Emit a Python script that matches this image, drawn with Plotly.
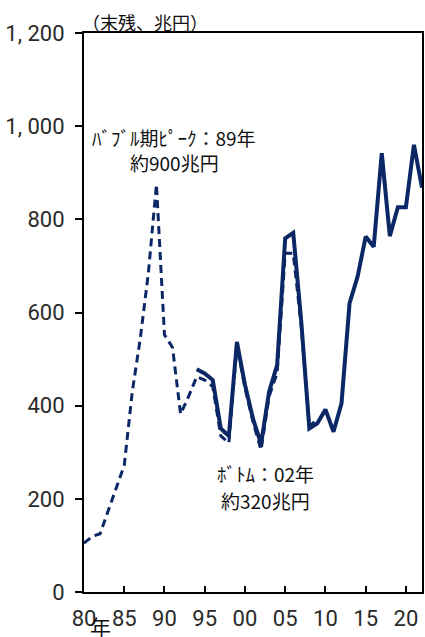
import plotly.graph_objects as go

# Old series (dashed), 1980-2009, 兆円
old_years = list(range(1980, 2010))
old_values = [105, 119, 125, 173, 221, 272, 430, 545, 685, 875,
              552, 525, 382, 420, 462, 455, 441, 335, 320, 530,
              438, 365, 305, 420, 470, 727, 727, 570, 355, 372]

# New series (solid), 1994-2022, 兆円
new_years = list(range(1994, 2023))
new_values = [478, 469, 455, 351, 335, 537, 445, 372, 318, 430,
              487, 759, 771, 580, 351, 362, 392, 344, 405, 620,
              677, 763, 741, 942, 764, 826, 826, 960, 868]

x_tick_vals = [1980, 1985, 1990, 1995, 2000, 2005, 2010, 2015, 2020]
x_tick_text = ["80", "85", "90", "95", "00", "05", "10", "15", "20"]
y_tick_vals = [0, 200, 400, 600, 800, 1000, 1200]
y_tick_text = ["0", "200", "400", "600", "800", "1, 000", "1, 200"]

NAVY = "#0b2765"
NUM_FONT = "Liberation Sans Narrow, Roboto, sans-serif"
JP_FONT = "Noto Sans CJK JP"

fig = go.Figure()
fig.add_trace(go.Scatter(
    x=old_years, y=old_values, mode="lines",
    line=dict(color=NAVY, width=3, dash="8px,5px"),
    showlegend=False, hoverinfo="skip",
))
fig.add_trace(go.Scatter(
    x=new_years, y=new_values, mode="lines",
    line=dict(color=NAVY, width=4),
    showlegend=False, hoverinfo="skip",
))

annotations = [
    dict(text="（末残、兆円）", xref="paper", yref="paper", x=-0.012, y=1.02,
         xanchor="left", yanchor="middle", showarrow=False,
         font=dict(family=JP_FONT, size=18, color="#111")),
    dict(text="年", xref="x", yref="paper", x=1982, y=-0.061,
         xanchor="center", yanchor="middle", showarrow=False,
         font=dict(family=JP_FONT, size=21, color="#111")),
    dict(text="ﾊﾞﾌﾞﾙ期ﾋﾟｰｸ：89年", xref="x", yref="y", x=1991.24, y=975,
         xanchor="center", yanchor="middle", showarrow=False,
         font=dict(family=JP_FONT, size=19, color="#111")),
    dict(text="約900兆円", xref="x", yref="y", x=1991.24, y=923,
         xanchor="center", yanchor="middle", showarrow=False,
         font=dict(family=JP_FONT, size=19, color="#111")),
    dict(text="ﾎﾞﾄﾑ：02年", xref="x", yref="y", x=2002.5, y=255,
         xanchor="center", yanchor="middle", showarrow=False,
         font=dict(family=JP_FONT, size=19, color="#111")),
    dict(text="約320兆円", xref="x", yref="y", x=2002.5, y=197,
         xanchor="center", yanchor="middle", showarrow=False,
         font=dict(family=JP_FONT, size=19, color="#111")),
]

fig.update_layout(
    width=425, height=637,
    margin=dict(l=84, r=1, t=33, b=45),
    paper_bgcolor="white", plot_bgcolor="white",
    annotations=annotations,
    xaxis=dict(
        range=[1980, 2022], tickvals=x_tick_vals, ticktext=x_tick_text,
        showgrid=False, zeroline=False,
        showline=True, linecolor="black", linewidth=2, mirror=True,
        ticks="inside", ticklen=6, tickwidth=2, tickcolor="black",
        tickfont=dict(family=NUM_FONT, size=22, color="#2a2a2a"),
        ticklabelstandoff=6,
    ),
    yaxis=dict(
        range=[0, 1200], tickvals=y_tick_vals, ticktext=y_tick_text,
        showgrid=False, zeroline=False,
        showline=True, linecolor="black", linewidth=2, mirror=True,
        ticks="outside", ticklen=7, tickwidth=2, tickcolor="black",
        tickfont=dict(family=NUM_FONT, size=22, color="#2a2a2a"),
        ticklabelstandoff=6,
    ),
)

fig.write_html("out.html")
